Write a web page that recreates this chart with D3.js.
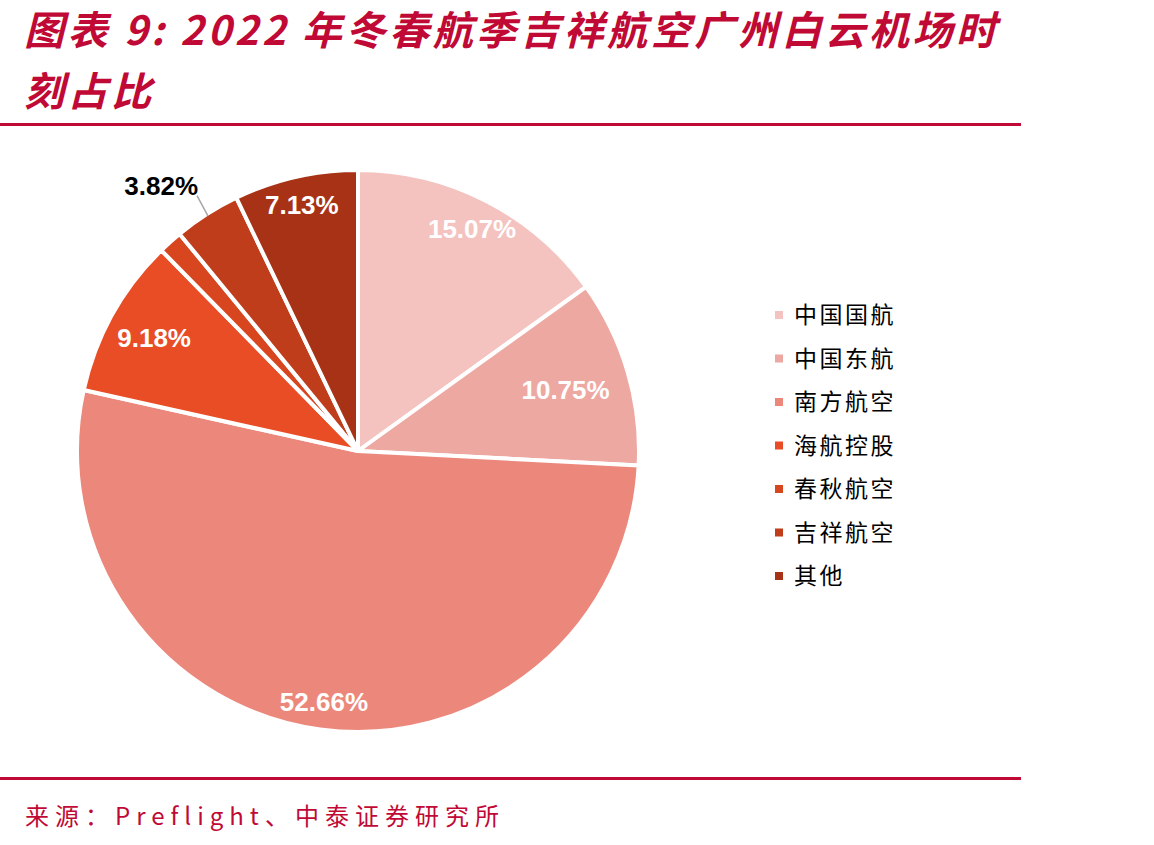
<!DOCTYPE html>
<html lang="zh">
<head>
    <meta charset="UTF-8">
    <title>吉祥航空广州白云机场时刻占比</title>
    <script src="https://d3js.org/d3.v7.min.js"></script>
    <style>
        body {
            margin: 0;
            background: #fff;
        }
        svg {
            display: block;
        }
        .title {
            font-family: "Noto Sans CJK SC", sans-serif;
            font-weight: bold;
            font-style: italic;
            letter-spacing: 3.6px;
            fill: #C00A35;
        }
        .slice-label {
            font-family: "Liberation Sans", Arial, sans-serif;
            font-weight: bold;
            font-size: 26px;
        }
        .legend text {
            font-family: "Noto Sans CJK SC", sans-serif;
            font-size: 23px;
            letter-spacing: 2.5px;
            fill: #000;
        }
        .source {
            font-family: "Noto Sans CJK SC", sans-serif;
            font-size: 24px;
            letter-spacing: 6px;
            fill: #C00A35;
        }
    </style>
</head>
<body>
<svg id="chart" width="1154" height="845"></svg>
<script>
    // Data
    const airlines = ["中国国航", "中国东航", "南方航空", "海航控股", "春秋航空", "吉祥航空", "其他"];
    const shares = [15.07, 10.75, 52.66, 9.18, 1.39, 3.82, 7.13];
    const colors = ["#F4C3C0", "#EEA8A2", "#EC887B", "#E84D25", "#D8461F", "#C03D1B", "#A83216"];
    const shownLabels = ["15.07%", "10.75%", "52.66%", "9.18%", "", "3.82%", "7.13%"];

    const svg = d3.select("#chart");
    const red = "#C00A35";

    // Title
    const title = svg.append("text").attr("class", "title").attr("font-size", 40);
    title.append("tspan").attr("x", 24).attr("y", 45).text("图表 9: 2022 年冬春航季吉祥航空广州白云机场时");
    title.append("tspan").attr("x", 24).attr("y", 106).text("刻占比");

    // Rules
    svg.append("rect").attr("x", 0).attr("y", 123).attr("width", 1021).attr("height", 3).attr("fill", red);
    svg.append("rect").attr("x", 0).attr("y", 777).attr("width", 1021).attr("height", 3).attr("fill", red);

    // Pie
    const cx = 358, cy = 451, R = 281;
    const g = svg.append("g").attr("transform", `translate(${cx},${cy})`);

    const pie = d3.pie().sort(null).value(d => d);
    const arcs = pie(shares);
    const arc = d3.arc().innerRadius(0).outerRadius(R);

    g.selectAll("path.slice")
        .data(arcs)
        .enter()
        .append("path")
        .attr("class", "slice")
        .attr("d", arc)
        .attr("fill", (d, i) => colors[i])
        .attr("stroke", "#fff")
        .attr("stroke-width", 4)
        .attr("stroke-linejoin", "round");

    // label distance from centre, as a fraction of radius
    const labelRadius = [0.89, 0.77, 0.9, 0.83, 0, 0, 0.9];
    const mid = d => (d.startAngle + d.endAngle) / 2;

    arcs.forEach((d, i) => {
        if (!shownLabels[i]) return;
        const a = mid(d);
        if (i === 5) {
            // outside label with leader line
            const p1 = [Math.sin(a) * (R - 2), -Math.cos(a) * (R - 2)];
            const p2 = [Math.sin(a) * (R + 22) + 2, -Math.cos(a) * (R + 22)];
            g.append("line")
                .attr("x1", p1[0]).attr("y1", p1[1])
                .attr("x2", p2[0]).attr("y2", p2[1])
                .attr("stroke", "#A6A6A6").attr("stroke-width", 1.5);
            g.append("text")
                .attr("class", "slice-label")
                .attr("x", p2[0] + 1).attr("y", p2[1] - 1)
                .attr("text-anchor", "end")
                .attr("fill", "#000")
                .text(shownLabels[i]);
            return;
        }
        const r = R * labelRadius[i];
        g.append("text")
            .attr("class", "slice-label")
            .attr("x", Math.sin(a) * r)
            .attr("y", -Math.cos(a) * r)
            .attr("dy", "0.35em")
            .attr("text-anchor", "middle")
            .attr("fill", "#fff")
            .text(shownLabels[i]);
    });

    // Legend
    const legend = svg.append("g").attr("class", "legend")
        .attr("transform", "translate(775,315)");
    const rowH = 43.5;
    airlines.forEach((name, i) => {
        const row = legend.append("g").attr("transform", `translate(0,${i * rowH})`);
        row.append("rect").attr("x", 0).attr("y", -4).attr("width", 8).attr("height", 8)
            .attr("fill", colors[i]);
        row.append("text").attr("x", 19).attr("y", 0).attr("dy", "0.36em").text(name);
    });

    // Source
    svg.append("text").attr("class", "source").attr("x", 25).attr("y", 825)
        .text("来源：Preflight、中泰证券研究所");
</script>
</body>
</html>
